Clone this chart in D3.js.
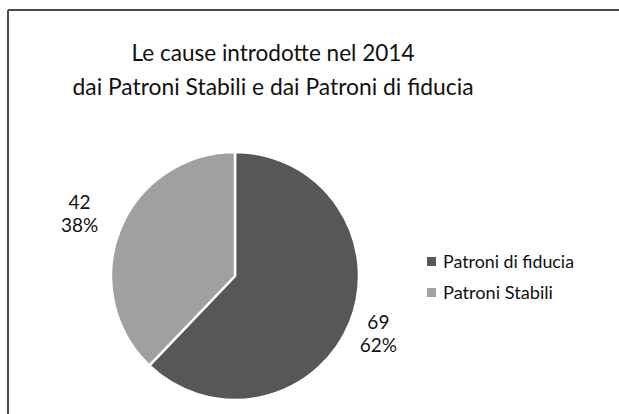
<!DOCTYPE html>
<html>
<head>
<meta charset="utf-8">
<script src="https://cdn.jsdelivr.net/npm/d3@7"></script>
<style>
  html, body { margin: 0; padding: 0; background: #fff; }
  svg { display: block; }
  text { font-family: Lato, "Open Sans", sans-serif; fill: #111; }
</style>
</head>
<body>
<svg id="chart" width="619" height="414"></svg>
<script>
// Cases filed in 2014, by type of patron
const categories = ["Patroni di fiducia", "Patroni Stabili"];
const values = [69, 42];
const percentLabels = ["62%", "38%"];
const titleLines = ["Le cause introdotte nel 2014", "dai Patroni Stabili e dai Patroni di fiducia"];
const colors = ["#575757", "#a0a0a0"];

const svg = d3.select("#chart");
const W = 619, H = 414;

// chart frame (top and left edges)
svg.append("line").attr("x1", 8).attr("x2", W).attr("y1", 10).attr("y2", 10)
  .attr("stroke", "#4a4a4a").attr("stroke-width", 2);
svg.append("line").attr("x1", 8).attr("x2", 8).attr("y1", 10).attr("y2", H)
  .attr("stroke", "#4a4a4a").attr("stroke-width", 2);

// title
svg.append("g").selectAll("text").data(titleLines).join("text")
  .attr("x", 273)
  .attr("y", (d, i) => 61 + i * 34)
  .attr("text-anchor", "middle")
  .attr("font-size", 24)
  .attr("textLength", (d, i) => i === 0 ? 283 : 401)
  .attr("lengthAdjust", "spacingAndGlyphs")
  .text(d => d);

// pie
const cx = 235, cy = 276, r = 124;
const color = d3.scaleOrdinal().domain(categories).range(colors);
const pie = d3.pie().sort(null).value(d => d.value);
const data = categories.map((c, i) => ({ cat: c, value: values[i], pct: percentLabels[i] }));
const arcs = pie(data);
const arc = d3.arc().innerRadius(0).outerRadius(r);
const labelArc = d3.arc().innerRadius(r + 37).outerRadius(r + 37);

const g = svg.append("g").attr("transform", `translate(${cx},${cy})`);
g.selectAll("path").data(arcs).join("path")
  .attr("d", arc)
  .attr("fill", d => color(d.data.cat))
  .attr("stroke", "#fff")
  .attr("stroke-width", 2.5)
  .attr("stroke-linejoin", "round");

// data labels: value and percentage
const lbl = g.selectAll("g.lbl").data(arcs).join("g").attr("class", "lbl")
  .attr("transform", d => {
    const [x, y] = labelArc.centroid(d);
    return `translate(${x - 6},${y})`;
  });
lbl.append("text").attr("text-anchor", "middle").attr("y", -7)
  .attr("font-size", 19).text(d => d.data.value);
lbl.append("text").attr("text-anchor", "middle").attr("y", 16)
  .attr("font-size", 19).text(d => d.data.pct);

// legend
const leg = svg.append("g").attr("transform", "translate(427,257)");
const item = leg.selectAll("g").data(categories).join("g")
  .attr("transform", (d, i) => `translate(0,${i * 31})`);
item.append("rect").attr("width", 9).attr("height", 9).attr("fill", d => color(d));
item.append("text").attr("x", 16).attr("y", 11).attr("font-size", 16.5)
  .attr("textLength", (d, i) => i === 0 ? 131 : 110)
  .attr("lengthAdjust", "spacingAndGlyphs")
  .text(d => d);
</script>
</body>
</html>
